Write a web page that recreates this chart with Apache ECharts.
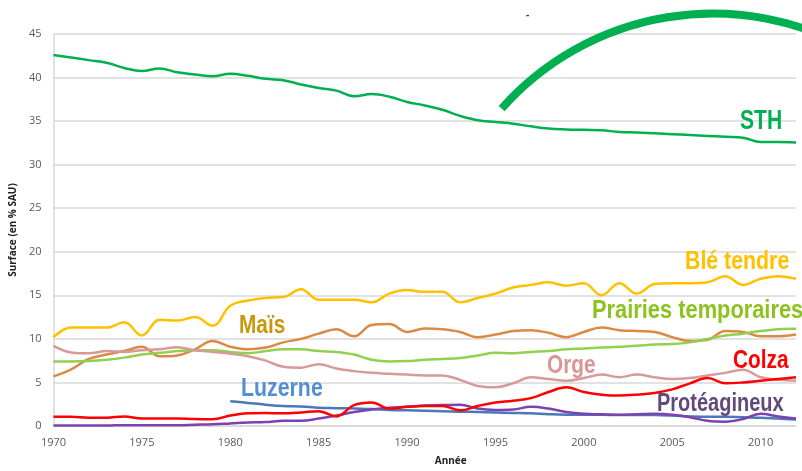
<!DOCTYPE html>
<html>
<head>
<meta charset="utf-8">
<script src="https://cdn.jsdelivr.net/npm/echarts@6/dist/echarts.min.js"></script>
<style>
  html, body { margin: 0; padding: 0; background: #fff; }
  #echarts { width: 802px; height: 471px; }
</style>
</head>
<body>
<div id="echarts"></div>
<script>
var years = [];
for (var y = 1970; y <= 2012; y++) years.push(String(y));

// valeurs (surface en % de la SAU)
var sth = [42.6, 42.3, 42.0, 41.7, 41.1, 40.75, 41.05, 40.6, 40.35, 40.15,
  40.45, 40.2, 39.85, 39.7, 39.2, 38.8, 38.5, 37.85, 38.1, 37.8,
  37.2, 36.8, 36.3, 35.6, 35.1, 34.9, 34.7, 34.4, 34.15, 34.05,
  34.0, 33.95, 33.75, 33.7, 33.6, 33.5, 33.4, 33.3, 33.2, 33.1,
  32.6, 32.6, 32.55];
var bleTendre = [10.2, 11.3, 11.3, 11.3, 11.9, 10.4, 12.2, 12.1, 12.5, 11.5,
  13.8, 14.4, 14.7, 14.8, 15.7, 14.5, 14.5, 14.5, 14.2, 15.2,
  15.6, 15.4, 15.4, 14.2, 14.7, 15.2, 15.9, 16.2, 16.5, 16.1,
  16.4, 15.0, 16.4, 15.2, 16.3, 16.4, 16.4, 16.5, 17.2, 16.2,
  16.9, 17.2, 16.9];
var mais = [5.7, 6.5, 7.7, 8.2, 8.6, 9.1, 8.0, 8.1, 8.8, 9.75,
  9.1, 8.8, 9.0, 9.6, 10.0, 10.6, 11.1, 10.3, 11.6, 11.7,
  10.8, 11.2, 11.1, 10.8, 10.2, 10.5, 10.9, 11.0, 10.7, 10.2,
  10.8, 11.3, 11.0, 10.9, 10.8, 10.2, 9.75, 9.9, 10.9, 10.8,
  10.3, 10.3, 10.5];
var prairies = [7.4, 7.4, 7.45, 7.6, 7.85, 8.2, 8.4, 8.6, 8.7, 8.7,
  8.5, 8.35, 8.6, 8.8, 8.8, 8.6, 8.5, 8.2, 7.6, 7.4,
  7.45, 7.6, 7.7, 7.8, 8.1, 8.4, 8.35, 8.5, 8.6, 8.8,
  8.9, 9.0, 9.1, 9.2, 9.35, 9.4, 9.6, 10.0, 10.4, 10.6,
  10.9, 11.1, 11.15];
var orge = [9.2, 8.45, 8.35, 8.6, 8.5, 8.7, 8.8, 9.05, 8.7, 8.5,
  8.3, 8.0, 7.5, 6.8, 6.7, 7.1, 6.6, 6.3, 6.1, 6.0,
  5.9, 5.8, 5.8, 5.3, 4.6, 4.45, 4.9, 5.6, 5.4, 5.2,
  5.5, 5.9, 5.6, 5.9, 5.6, 5.4, 5.5, 5.8, 6.1, 6.45,
  5.6, 5.3, 5.2];
var colza = [1.05, 1.05, 0.95, 0.95, 1.1, 0.87, 0.87, 0.87, 0.8, 0.78,
  1.2, 1.45, 1.5, 1.45, 1.55, 1.7, 1.1, 2.4, 2.7, 2.0,
  2.2, 2.3, 2.3, 1.8, 2.3, 2.7, 2.9, 3.2, 3.9, 4.45,
  3.9, 3.6, 3.5, 3.6, 3.8, 4.2, 4.9, 5.5, 4.9, 5.0,
  5.2, 5.4, 5.6];
var luzerne = [null, null, null, null, null, null, null, null, null, null,
  2.85, 2.65, 2.45, 2.3, 2.25, 2.1, 2.05, 2.0, 1.95, 1.85,
  1.8, 1.75, 1.7, 1.65, 1.6, 1.55, 1.5, 1.45, 1.35, 1.3,
  1.3, 1.3, 1.25, 1.25, 1.25, 1.2, 1.1, 1.05, 1.05, 1.0,
  0.95, 0.85, 0.75];
var proteagineux = [0.05, 0.05, 0.05, 0.05, 0.1, 0.1, 0.1, 0.1, 0.15, 0.2,
  0.3, 0.4, 0.45, 0.6, 0.6, 0.85, 1.2, 1.6, 1.9, 2.1,
  2.2, 2.35, 2.4, 2.45, 2.0, 1.85, 1.9, 2.2, 2.0, 1.6,
  1.4, 1.35, 1.3, 1.35, 1.4, 1.3, 1.0, 0.6, 0.5, 0.8,
  1.4, 1.1, 0.85];

var labelFont = '"Liberation Sans", Arial, sans-serif';

function ligne(nom, data, color) {
  return {
    name: nom,
    type: 'line',
    data: data,
    smooth: 0.4,
    symbol: 'none',
    lineStyle: { width: 2.5, color: color },
    itemStyle: { color: color }
  };
}

// texte gras un peu condensé, comme dans l'original
function etiquette(txt, x, y, color, size, sx) {
  return {
    type: 'text',
    x: x,
    y: y,
    scaleX: sx || 0.82,
    z: 50,
    style: {
      text: txt,
      fill: color,
      font: 'bold ' + size + 'px ' + labelFont,
      textAlign: 'left',
      textVerticalAlign: 'middle'
    }
  };
}

var myChart = echarts.init(document.getElementById('echarts'));

option = {
  backgroundColor: '#ffffff',
  animation: false,
  grid: { left: 53, right: 6, top: 34, bottom: 40 },
  xAxis: {
    type: 'category',
    data: years,
    boundaryGap: false,
    name: 'Année',
    nameLocation: 'middle',
    nameGap: 30,
    nameTextStyle: { color: '#222', fontWeight: 'bold', fontSize: 10, fontFamily: 'Open Sans', padding: [0, 0, 0, 52] },
    axisLine: { lineStyle: { color: '#D9D9D9', width: 1.5 } },
    axisTick: { show: false },
    axisLabel: { interval: 4, color: '#595959', fontSize: 11, fontFamily: 'Open Sans', margin: 11 },
    splitLine: { show: false }
  },
  yAxis: {
    type: 'value',
    min: 0,
    max: 45,
    interval: 5,
    name: 'Surface (en % SAU)',
    nameLocation: 'middle',
    nameGap: 33,
    nameTextStyle: { color: '#222', fontWeight: 'bold', fontSize: 10, fontFamily: 'Open Sans' },
    axisLine: { show: true, lineStyle: { color: '#D9D9D9', width: 1.5 } },
    axisTick: { show: false },
    axisLabel: { color: '#595959', fontSize: 11, fontFamily: 'Open Sans', margin: 12 },
    splitLine: { lineStyle: { color: '#D9D9D9', width: 1.5 } }
  },
  series: [
    ligne('STH', sth, '#00B050'),
    ligne('Blé tendre', bleTendre, '#FFC000'),
    ligne('Maïs', mais, '#DA8A43'),
    ligne('Prairies temporaires', prairies, '#92D050'),
    ligne('Orge', orge, '#D89A98'),
    ligne('Luzerne', luzerne, '#4A78B8'),
    ligne('Protéagineux', proteagineux, '#7B42B0'),
    ligne('Colza', colza, '#FF0000')
  ],
  graphic: [
    {
      type: 'arc',
      z: 40,
      shape: { cx: 713, cy: 296, r: 282.5, startAngle: -2.416, endAngle: -1.05, clockwise: true },
      style: { stroke: '#00B050', lineWidth: 8, fill: null, lineCap: 'butt' }
    },
    etiquette('-', 526, 15, '#333', 10, 1),
    etiquette('STH', 740, 122, '#00B050', 27, 0.78),
    etiquette('Blé tendre', 685, 262, '#FFC000', 26),
    etiquette('Prairies temporaires', 592, 311, '#8DC21F', 26, 0.84),
    etiquette('Maïs', 239, 326, '#C8980A', 26, 0.8),
    etiquette('Luzerne', 241, 389, '#558ED5', 26),
    etiquette('Orge', 547, 366, '#D99694', 26, 0.8),
    etiquette('Colza', 733, 361, '#FF0000', 26, 0.8),
    etiquette('Protéagineux', 657, 404, '#604A7B', 25, 0.8)
  ]
};

myChart.setOption(option);
</script>
</body>
</html>
